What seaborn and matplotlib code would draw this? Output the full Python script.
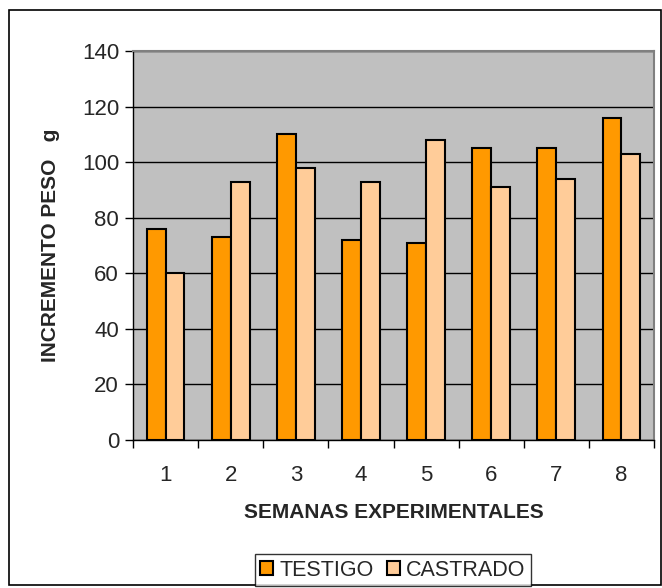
import pandas as pd
import matplotlib.pyplot as plt
import numpy as np
import seaborn as sns
from matplotlib.patches import Rectangle

semanas = ['1', '2', '3', '4', '5', '6', '7', '8']
testigo = [76, 73, 110, 72, 71, 105, 105, 116]
castrado = [60, 93, 98, 93, 108, 91, 94, 103]
grupos = ['TESTIGO', 'CASTRADO']
colores = ['#FF9900', '#FFCC99']

df = pd.DataFrame({
    'Semana': semanas * 2,
    'Incremento': testigo + castrado,
    'Grupo': [grupos[0]] * len(testigo) + [grupos[1]] * len(castrado)
})

sns.set_style('white')
plt.rcParams['font.family'] = ['Liberation Sans', 'DejaVu Sans']

fig = plt.figure(figsize=(6.62, 5.88), dpi=100)
ax = fig.add_axes([133 / 662, 1 - 440 / 588, (654 - 133) / 662, (440 - 51) / 588])

sns.barplot(data=df, x='Semana', y='Incremento', hue='Grupo', palette=colores,
            saturation=1, width=0.58, edgecolor='black', linewidth=1.5, ax=ax, legend=True)

ax.set_facecolor('#C0C0C0')
ax.set_ylim(0, 140)
ax.set_yticks(np.arange(0, 141, 20))
ax.set_xlim(-0.5, len(semanas) - 0.5)
ax.yaxis.grid(True, color='black', linewidth=1)
ax.set_axisbelow(True)

for s in ax.spines.values():
    s.set_color('#808080')
    s.set_linewidth(1.5)
ax.spines['left'].set_color('black')
ax.spines['left'].set_linewidth(1)
ax.spines['bottom'].set_color('black')
ax.spines['bottom'].set_linewidth(1)

ax.tick_params(axis='y', which='major', direction='out', length=6, width=1,
               color='black', labelsize=16, left=True, pad=4)
ax.tick_params(axis='x', which='major', length=0, labelsize=16, pad=18)
ax.set_xticks(np.arange(-0.5, len(semanas), 1), minor=True)
ax.tick_params(axis='x', which='minor', direction='out', length=6, width=1,
               color='black', bottom=True)

ax.set_xlabel('SEMANAS EXPERIMENTALES', fontsize=15, fontweight='bold', labelpad=12)
ax.set_ylabel('INCREMENTO PESO   g', fontsize=15, fontweight='bold', labelpad=16)

handles, labels = ax.get_legend_handles_labels()
ax.legend_.remove()
fig.legend(handles, labels, loc='center', bbox_to_anchor=(393 / 662, 1 - 570 / 588),
           ncol=2, frameon=True, fancybox=False, edgecolor='black', fontsize=15.5,
           handlelength=0.6, handleheight=0.6, handletextpad=0.3, columnspacing=0.6,
           borderpad=0.25, borderaxespad=0)

fig.patches.append(Rectangle((9 / 662, 1 - 585 / 588), 652 / 662, 575 / 588,
                             transform=fig.transFigure, fill=False,
                             edgecolor='black', linewidth=1.2))

plt.savefig('out.png', dpi=100)
